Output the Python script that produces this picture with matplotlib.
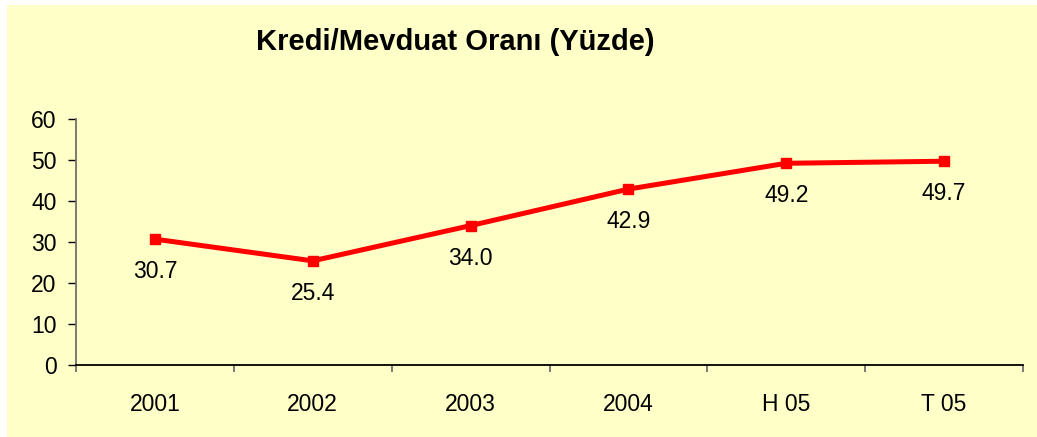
import numpy as np
import matplotlib
matplotlib.use('Agg')
import matplotlib.pyplot as plt
from matplotlib.patches import Rectangle

plt.rcParams['font.family'] = ['Liberation Sans', 'DejaVu Sans']

categories = ['2001', '2002', '2003', '2004', 'H 05', 'T 05']
ratio = [30.7, 25.4, 34.0, 42.9, 49.2, 49.7]
yticks = [0, 10, 20, 30, 40, 50, 60]

W, H = 1037, 437
fig = plt.figure(figsize=(W / 100, H / 100), dpi=100, facecolor='white')
fig.patches.append(Rectangle((7 / W, 0), 1 - 7 / W, 1 - 5 / H, transform=fig.transFigure,
                             facecolor='#FFFFC8', edgecolor='none', zorder=-10))

ax = fig.add_axes([76 / W, 72 / H, (1023 - 76) / W, (365 - 119) / H])
ax.set_facecolor('none')

x = np.arange(len(categories))
ax.plot(x, ratio, color='#FF0000', lw=3.6, marker='s', ms=7.2, clip_on=False)
for xi, v in zip(x, ratio):
    ax.annotate(f'{v:.1f}', (xi, v), xytext=(0, -23.5), textcoords='offset points',
                ha='center', va='center', fontsize=16.5)

ax.set_xlim(-0.5, len(categories) - 0.5)
ax.set_ylim(0, 60)
ax.set_yticks(yticks)
ax.set_xticks(x)
ax.set_xticklabels(categories)
ax.set_xticks(np.arange(-0.5, len(categories)), minor=True)

for s in ['top', 'right']:
    ax.spines[s].set_visible(False)
ax.spines['left'].set_color('#707070')
ax.spines['left'].set_linewidth(1.3)
ax.spines['bottom'].set_color('black')
ax.spines['bottom'].set_linewidth(1.3)

ax.tick_params(axis='y', direction='out', length=5.5, width=1, color='black', labelsize=16.5, pad=8.5)
ax.tick_params(axis='x', which='major', length=0, labelsize=16.5, pad=20)
ax.tick_params(axis='x', which='minor', direction='out', length=5, width=1.3, color='#707070')

fig.text(455 / W, 1 - 42 / H, 'Kredi/Mevduat Oranı (Yüzde)', ha='center', va='center',
         fontsize=21, fontweight='bold')

fig.savefig('out.png', dpi=100, facecolor=fig.get_facecolor())
